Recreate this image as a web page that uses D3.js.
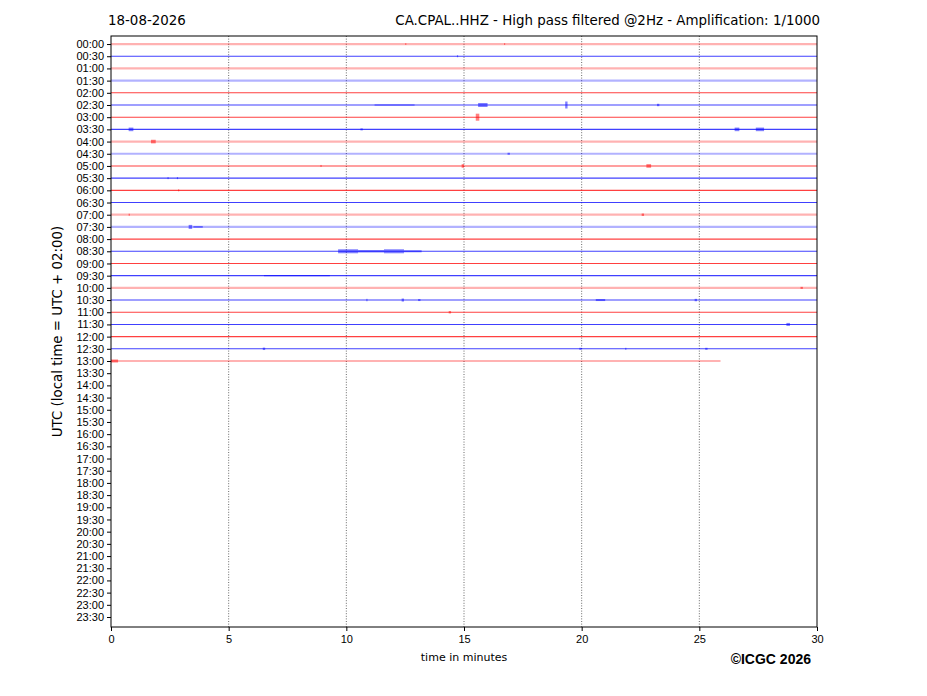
<!DOCTYPE html>
<html>
<head>
<meta charset="utf-8">
<script src="https://cdn.jsdelivr.net/npm/d3@7"></script>
<style>
  body { margin: 0; background: #fff; }
  svg { font-family: 'DejaVu Sans', sans-serif; }
  .axis text { font-size: 11px; fill: #000; }
  .axis path, .axis line { stroke: #000; }
</style>
</head>
<body>
<div id="chart"></div>
<script>
'use strict';

// row labels (UTC, every 30 min)
const rowLabels = d3.range(48).map(i => d3.format('02d')(Math.floor(i / 2)) + ':' + (i % 2 ? '30' : '00'));
const xTicks = [0, 5, 10, 15, 20, 25, 30];

// rows that have data: 00:00 .. 13:00, last one ends early
const dataRows = rowLabels.slice(0, 27);
const lastRowEnd = 25.9;

// 1 = noisier row (drawn thicker / paler)
const rowNoise = [1, 0, 1, 1, 0, 0, 0, 0, 1, 1, 0, 0, 0, 0, 1, 1, 0, 0, 0, 0, 1, 0, 0, 0, 0, 0, 1];

// events: [row, start minute, end minute, half amplitude]
const events = [
  ['00:00', 12.5, 12.55, 0.8], ['00:00', 16.7, 16.75, 0.8],
  ['00:30', 14.7, 14.75, 1],
  ['02:30', 11.2, 12.9, 0.6], ['02:30', 15.6, 16.0, 2], ['02:30', 19.3, 19.4, 3.5],
  ['02:30', 23.2, 23.3, 1.2],
  ['03:00', 15.5, 15.65, 3.5],
  ['03:30', 0.75, 0.95, 1.8], ['03:30', 10.6, 10.7, 1], ['03:30', 26.5, 26.7, 1.8],
  ['03:30', 27.4, 27.75, 1.8],
  ['04:00', 1.7, 1.9, 1.8],
  ['04:30', 16.85, 16.95, 1],
  ['05:00', 8.9, 8.95, 1], ['05:00', 14.9, 15.0, 1.8], ['05:00', 22.75, 22.95, 1.8],
  ['05:30', 2.4, 2.45, 1], ['05:30', 2.8, 2.85, 1],
  ['06:00', 2.85, 2.9, 1],
  ['07:00', 0.75, 0.8, 1], ['07:00', 22.55, 22.65, 1.2],
  ['07:30', 3.3, 3.45, 2], ['07:30', 3.5, 3.9, 0.8],
  ['08:30', 9.65, 10.5, 2], ['08:30', 10.5, 11.6, 1.2], ['08:30', 11.6, 12.45, 2],
  ['08:30', 12.45, 13.2, 1],
  ['09:30', 6.5, 9.3, 0.6],
  ['10:00', 29.3, 29.4, 1],
  ['10:30', 10.85, 10.9, 1.2], ['10:30', 12.35, 12.45, 1.5], ['10:30', 13.05, 13.15, 1],
  ['10:30', 20.6, 21.0, 1], ['10:30', 24.8, 24.9, 1.2],
  ['11:00', 14.35, 14.45, 1.2],
  ['11:30', 28.7, 28.85, 1.5],
  ['12:30', 6.45, 6.55, 1.2], ['12:30', 19.9, 20.0, 1], ['12:30', 21.85, 21.9, 1],
  ['12:30', 25.25, 25.35, 1],
  ['13:00', 0.0, 0.3, 1.5]
];

const width = 927, height = 696;
const margin = { top: 36, right: 110, bottom: 69, left: 111 };
const innerW = width - margin.left - margin.right;
const innerH = height - margin.top - margin.bottom;

const svg = d3.select('#chart').append('svg')
  .attr('width', width).attr('height', height);

const g = svg.append('g').attr('transform', `translate(${margin.left},${margin.top})`);

const x = d3.scaleLinear().domain([0, 30]).range([0, innerW]);
const yIdx = d3.scaleLinear().domain([-0.66, 47.82]).range([0, innerH]);
const y = label => yIdx(rowLabels.indexOf(label));
const color = label => rowLabels.indexOf(label) % 2 ? '#0000ff' : '#ff0000';

// grid
g.append('g').selectAll('line').data(xTicks.slice(1, -1))
  .enter().append('line')
  .attr('x1', d => x(d)).attr('x2', d => x(d))
  .attr('y1', 0).attr('y2', innerH)
  .attr('stroke', '#444').attr('stroke-width', 0.8)
  .attr('stroke-dasharray', '1,1.6');

// traces
g.append('g').selectAll('line').data(dataRows)
  .enter().append('line')
  .attr('x1', x(0))
  .attr('x2', (d, i) => i === dataRows.length - 1 ? x(lastRowEnd) : x(30))
  .attr('y1', d => y(d)).attr('y2', d => y(d))
  .attr('stroke', d => color(d))
  .attr('stroke-width', (d, i) => rowNoise[i] ? 2.2 : 1.1)
  .attr('stroke-opacity', (d, i) => rowNoise[i] ? 0.3 : 0.75);

g.append('g').selectAll('rect').data(events)
  .enter().append('rect')
  .attr('x', d => x(d[1]))
  .attr('width', d => Math.max(1, x(d[2]) - x(d[1])))
  .attr('y', d => y(d[0]) - d[3])
  .attr('height', d => 2 * d[3])
  .attr('fill', d => color(d[0]))
  .attr('fill-opacity', 0.5);

// frame
g.append('rect').attr('width', innerW).attr('height', innerH)
  .attr('fill', 'none').attr('stroke', '#000').attr('stroke-width', 1);

// axes
g.append('g').classed('axis', true)
  .call(d3.axisLeft(yIdx).tickValues(d3.range(48)).tickFormat(i => rowLabels[i]).tickSize(4).tickPadding(3))
  .call(a => a.select('.domain').remove());

g.append('g').classed('axis', true)
  .attr('transform', `translate(0,${innerH})`)
  .call(d3.axisBottom(x).tickValues(xTicks).tickFormat(d3.format('d')).tickSize(4).tickPadding(4))
  .call(a => a.select('.domain').remove());

// texts
svg.append('text').attr('x', 108).attr('y', 25)
  .style('font-size', '13.4px').text('18-08-2026');
svg.append('text').attr('x', 820).attr('y', 25).attr('text-anchor', 'end')
  .style('font-size', '13.4px').text('CA.CPAL..HHZ - High pass filtered @2Hz - Amplification: 1/1000');
svg.append('text').attr('transform', `translate(62,${margin.top + innerH / 2}) rotate(-90)`)
  .attr('text-anchor', 'middle').style('font-size', '13.4px')
  .text('UTC (local time = UTC + 02:00)');
svg.append('text').attr('x', margin.left + innerW / 2).attr('y', 661)
  .attr('text-anchor', 'middle').style('font-size', '11px').text('time in minutes');
svg.append('text').attr('x', 811).attr('y', 664).attr('text-anchor', 'end')
  .style('font-size', '14px').style('font-weight', 'bold')
  .style('font-family', 'Liberation Sans, Arial, sans-serif').text('©ICGC 2026');
</script>
</body>
</html>
